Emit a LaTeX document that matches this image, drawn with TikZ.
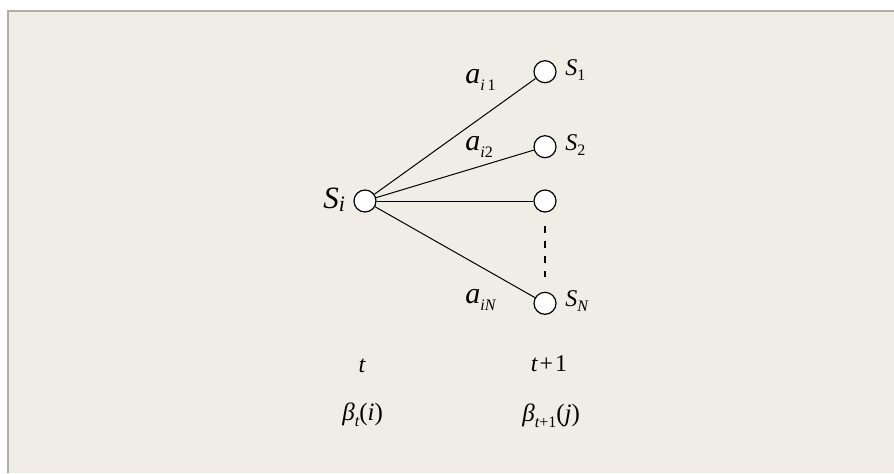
\documentclass[tikz,border=0pt]{standalone}
\usepackage{fontspec}
\setmainfont{Liberation Serif}
\usepackage{tikz}
\usetikzlibrary{positioning,calc}
\definecolor{panelfill}{RGB}{240,237,231}
\definecolor{panelline}{RGB}{178,172,164}
\newcommand{\lowidx}[2][2.5pt]{\raisebox{-#1}{\fontsize{8}{9}\selectfont #2}}
\tikzset{
  Snode/.style={draw, circle, fill=white, line width=0.6pt,
                minimum size=11pt, inner sep=0pt},
  Slab/.style={inner sep=0pt, anchor=base west,
               font=\fontsize{12}{14}\selectfont\itshape},
  Alab/.style={inner sep=0pt, anchor=base west,
               font=\fontsize{15}{17}\selectfont\itshape},
  Tlab/.style={inner sep=0pt, anchor=base,
               font=\fontsize{12}{14}\selectfont\itshape},
  Blab/.style={inner sep=0pt, anchor=base west,
               font=\fontsize{12.5}{14}\selectfont\itshape},
  Tedge/.style={line width=0.5pt},
  Gap/.style={line width=0.7pt, dash pattern=on 3.5pt off 4pt,
              shorten <=6.8pt, shorten >=7.5pt}
}
\begin{document}
\begin{tikzpicture}[x=0.5pt, y=-0.5pt]
  \useasboundingbox (0,0) rectangle (894,473);
  % panel
  \fill[panelfill] (8,11) rectangle (894,473);
  \draw[panelline, line width=0.75pt] (894,11) -- (8,11) -- (8,473);

  % states
  \node[Snode] (si) at (365,201) {};
  \node[Snode] (s1) at (545,71.7) {};
  \node[Snode] (s2) at (545,146.7) {};
  \node[Snode] (s3) at (545,201) {};
  \node[Snode] (sn) at (545,303.3) {};

  \draw[Tedge] (si) -- (s1);
  \draw[Tedge] (si) -- (s2);
  \draw[Tedge] (si) -- (s3);
  \draw[Tedge] (si) -- (sn);
  \draw[Gap] (s3) -- (sn);

  % state names
  \node[Slab, font=\fontsize{15.5}{17}\selectfont\itshape] (lsi) at (323,208)
    {S\lowidx[1.5pt]{\fontsize{11}{12}\selectfont i}};
  \node[Slab] (ls1) at (565,75) {S\lowidx{\upshape 1}};
  \node[Slab] (ls2) at (565,150) {S\lowidx{\upshape 2}};
  \node[Slab] (lsn) at (565,306.5) {S\lowidx{N}};

  % transition probabilities
  \node[Alab] (ai1) at (465,83) {a\lowidx[3.5pt]{i\,\upshape 1}};
  \node[Alab] (ai2) at (465,150) {a\lowidx[3.5pt]{i\upshape 2}};
  \node[Alab] (ain) at (465,303) {a\lowidx[3.5pt]{iN}};

  % time steps
  \node[Tlab] (tnow) at (362,372) {t};
  \node[Tlab] (tnext) at (549,371) {t\kern1pt{\upshape+\kern1pt1}};
  \node[Blab] (bnow) at (342,420.6)
    {β\lowidx[3pt]{t}{\upshape(}i{\upshape)}};
  \node[Blab] (bnext) at (522,421)
    {β\lowidx[3pt]{t{\upshape+1}}{\upshape(}j{\upshape)}};
\end{tikzpicture}
\end{document}
